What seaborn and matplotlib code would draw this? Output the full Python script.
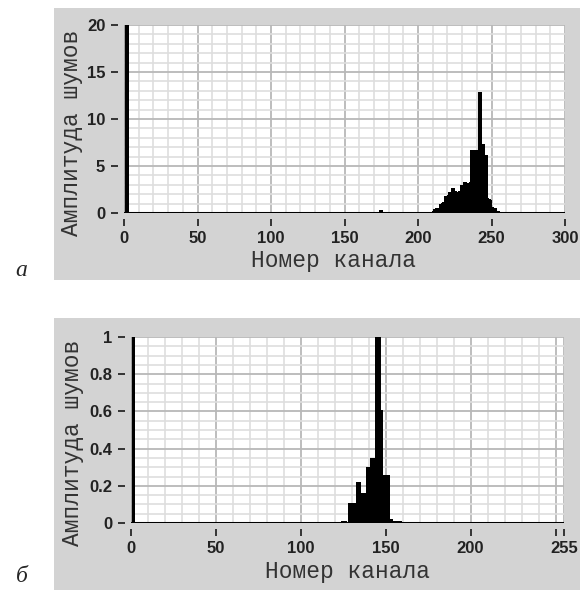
import matplotlib
matplotlib.use("Agg")
import matplotlib.pyplot as plt
import seaborn as sns
from matplotlib.patches import Rectangle
from matplotlib.ticker import MultipleLocator

# панель (а): номер канала -> амплитуда шумов
kanaly_a = [1, 2, 3, 174, 175, 176,
            208, 209, 210, 211, 212, 213, 214, 215, 216, 217, 218, 219, 220,
            221, 222, 223, 224, 225, 226, 227, 228, 229, 230, 231, 232, 233,
            234, 235, 236, 237, 238, 239, 240, 241, 242, 243, 244, 245, 246,
            247, 248, 249, 250, 251, 252, 253, 254, 255, 256, 257]
amp_a = [20, 20, 20, 0.3, 0.3, 0.3,
         0.1, 0.15, 0.2, 0.4, 0.5, 0.5, 0.5, 1.0, 1.1, 1.2, 1.8, 1.8, 1.9,
         2.2, 2.2, 2.7, 2.7, 2.7, 2.3, 2.2, 2.3, 3.0, 3.0, 3.3, 3.3, 3.3,
         3.2, 3.3, 6.7, 6.7, 6.7, 6.7, 6.7, 12.9, 12.9, 12.9, 7.3, 7.3, 6.2,
         6.2, 1.6, 1.5, 1.4, 0.6, 0.5, 0.5, 0.2, 0.2, 0.15, 0.1]

# панель (б)
kanaly_b = [1, 2, 124, 125, 126, 127, 128, 129, 130, 131, 132, 133, 134, 135,
            136, 137, 138, 139, 140, 141, 142, 143, 144, 145, 146, 147, 148,
            149, 150, 151, 152, 153, 154, 155, 156, 157, 158, 159]
amp_b = [1.0, 1.0, 0.01, 0.01, 0.01, 0.01, 0.11, 0.11, 0.11, 0.11, 0.11, 0.22, 0.22, 0.22,
         0.16, 0.16, 0.16, 0.30, 0.30, 0.35, 0.35, 0.35, 1.0, 1.0, 1.0, 1.0, 0.61,
         0.26, 0.26, 0.26, 0.26, 0.02, 0.02, 0.01, 0.01, 0.01, 0.01, 0.01]

xticks_a = [0, 50, 100, 150, 200, 250, 300]
xlabels_a = ['0', '50', '100', '150', '200', '250', '300']
yticks_a = [0, 5, 10, 15, 20]
ylabels_a = ['0', '5', '10', '15', '20']

xticks_b = [0, 50, 100, 150, 200, 250, 255]
xlabels_b = ['0', '50', '100', '150', '200', '', '255']
yticks_b = [0, 0.2, 0.4, 0.6, 0.8, 1.0]
ylabels_b = ['0', '0.2', '0.4', '0.6', '0.8', '1']

sns.set_style("white")
plt.rcParams['font.family'] = ['Liberation Sans', 'DejaVu Sans']

W, H = 583, 590
fig = plt.figure(figsize=(W / 100, H / 100), dpi=100)

# серые панели
for top, bottom in [(8, 280), (318, 590)]:
    fig.add_artist(Rectangle((54 / W, 1 - bottom / H), (580 - 54) / W, (bottom - top) / H,
                             transform=fig.transFigure, facecolor='#d3d3d3',
                             edgecolor='none', zorder=-5))

ax_a = fig.add_axes([124 / W, 1 - 213 / H, 441 / W, 188 / H])
ax_b = fig.add_axes([131 / W, 1 - 523 / H, 433 / W, 186 / H])


def oformit(ax, kanaly, amp, xmax, ymax, xminor, yminor,
            xt, xl, yt, yl, xlab_pos, ylab_pos):
    sns.histplot(x=kanaly, weights=amp, discrete=True, shrink=1, color='black',
                 alpha=1, linewidth=0, ax=ax, zorder=3)
    ax.set_facecolor('white')
    ax.set_xlim(0, xmax)
    ax.set_ylim(0, ymax)
    ax.set_xticks(xt)
    ax.set_xticklabels(xl)
    ax.set_yticks(yt)
    ax.set_yticklabels(yl)
    ax.xaxis.set_minor_locator(MultipleLocator(xminor))
    ax.yaxis.set_minor_locator(MultipleLocator(yminor))
    ax.grid(which='minor', color='#dedede', lw=1.2)
    ax.grid(which='major', color='#b8b8b8', lw=1.3)
    ax.set_axisbelow(True)
    for s in ['top', 'right']:
        ax.spines[s].set_visible(False)
    ax.spines['left'].set_position(('outward', 4))
    ax.spines['left'].set_visible(False)
    ax.spines['bottom'].set_position(('outward', 4))
    ax.spines['bottom'].set_visible(False)
    ax.axhline(0, color='black', lw=2.2, zorder=4)
    ax.axvline(0, color='#9a9a9a', lw=1.2, zorder=2)
    ax.tick_params(which='minor', length=0)
    ax.tick_params(which='major', bottom=True, left=True, direction='out',
                   length=5, width=1.4, color='#333333', labelcolor='#222222',
                   labelsize=12)
    ax.tick_params(axis='y', pad=4.5)
    ax.tick_params(axis='x', pad=4)
    for t in ax.get_xticklabels() + ax.get_yticklabels():
        t.set_fontweight('bold')
    ax.set_xlabel('Номер канала', family='Liberation Mono', fontsize=16.5,
                  color='#333333', va='center', ha='center')
    ax.set_ylabel('Амплитуда шумов', family='Liberation Mono', fontsize=16.5,
                  color='#333333', va='center', ha='center')
    ax.xaxis.set_label_coords(*xlab_pos)
    ax.yaxis.set_label_coords(*ylab_pos)


oformit(ax_a, kanaly_a, amp_a, 300, 20, 10, 1, xticks_a, xlabels_a,
        yticks_a, ylabels_a, (0.476, -0.25), (-0.12, 0.425))
oformit(ax_b, kanaly_b, amp_b, 255, 1, 10, 0.05, xticks_b, xlabels_b,
        yticks_b, ylabels_b, (0.499, -0.263), (-0.136, 0.43))

fig.text(21 / W, 1 - 270 / H, 'а', family='Liberation Serif', style='italic',
         fontsize=17, ha='center', va='center')
fig.text(22 / W, 1 - 576 / H, 'б', family='Liberation Serif', style='italic',
         fontsize=17, ha='center', va='center')

fig.savefig('out.png', dpi=100)
